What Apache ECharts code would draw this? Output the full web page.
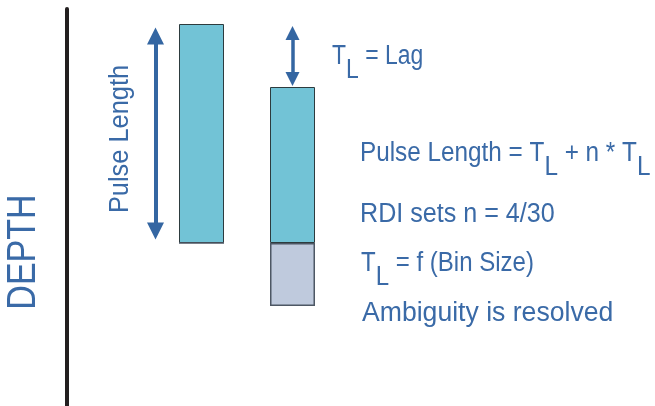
<!DOCTYPE html>
<html>
<head>
<meta charset="utf-8">
<script src="https://cdn.jsdelivr.net/npm/echarts@6/dist/echarts.min.js"></script>
<style>
  html, body { margin: 0; padding: 0; background: #fff; }
  #chart { width: 655px; height: 406px; }
</style>
</head>
<body>
<div id="chart"></div>
<script>
  // two pulses along the depth axis (depth counted down from the top)
  var pulses = ['Pulse 1', 'Pulse 2'];
  var pulseTop = [24, 87];
  var pulseBottom = [243, 243];
  var ambiguityDepth = [0, 63];   // grey part under pulse 2

  var blue = '#3a6aa7';
  var arrowBlue = '#3466a2';
  var font = '"Liberation Sans", Arial, sans-serif';

  var pulseLen = pulses.map(function (p, i) { return pulseBottom[i] - pulseTop[i]; });

  // rich text: the L subscript keeps the size but is pushed down
  var rich = {
    m: { fontSize: 27, lineHeight: 28, verticalAlign: 'top', fill: blue, fontFamily: font },
    s: { fontSize: 27, lineHeight: 28, verticalAlign: 'top', padding: [14, 0, 0, 0], fill: blue, fontFamily: font }
  };
  function note(x, y, text, sx) {
    return {
      type: 'text', x: x, y: y, scaleX: sx,
      style: { text: text, rich: rich, align: 'left', verticalAlign: 'top' }
    };
  }

  var chart = echarts.init(document.getElementById('chart'));
  var option = {
    backgroundColor: '#fff',
    animation: false,
    grid: [
      { left: 0, top: 0, width: 655, height: 406 },      // annotations
      { left: 156, top: 0, width: 182, height: 406 },    // pulses
      { left: 67, top: 9, width: 1, bottom: 0 }          // depth axis
    ],
    xAxis: [
      { gridIndex: 0, type: 'value', min: 0, max: 655, show: false },
      { gridIndex: 1, type: 'category', data: pulses, show: false },
      { gridIndex: 2, type: 'value', show: false }
    ],
    yAxis: [
      { gridIndex: 0, type: 'value', min: 0, max: 406, inverse: true, show: false },
      { gridIndex: 1, type: 'value', min: 0, max: 406, inverse: true, show: false },
      {
        gridIndex: 2, type: 'value', min: 0, max: 1,
        axisLine: { show: true, lineStyle: { color: '#231f20', width: 4 } },
        axisTick: { show: false }, axisLabel: { show: false }, splitLine: { show: false }
      }
    ],
    series: [
      {
        type: 'bar', xAxisIndex: 1, yAxisIndex: 1, stack: 'depth', barWidth: 45,
        itemStyle: { color: 'transparent' },
        data: pulseTop
      },
      {
        type: 'bar', xAxisIndex: 1, yAxisIndex: 1, stack: 'depth', barWidth: 45,
        itemStyle: { color: '#72c3d6', borderColor: '#2d3b3e', borderWidth: 1 },
        data: pulseLen
      },
      {
        type: 'bar', xAxisIndex: 1, yAxisIndex: 1, stack: 'depth', barWidth: 45,
        itemStyle: { color: '#bfcadd', borderColor: '#4d5764', borderWidth: 1.5 },
        data: ambiguityDepth
      },
      {
        // pulse length arrow
        type: 'lines', coordinateSystem: 'cartesian2d', xAxisIndex: 0, yAxisIndex: 0,
        symbol: ['triangle', 'triangle'], symbolSize: 17,
        lineStyle: { color: arrowBlue, width: 4, opacity: 1 },
        data: [{ coords: [[155.5, pulseTop[0] + 12], [155.5, pulseBottom[0] - 12]] }]
      },
      {
        // lag arrow
        type: 'lines', coordinateSystem: 'cartesian2d', xAxisIndex: 0, yAxisIndex: 0,
        symbol: ['triangle', 'triangle'], symbolSize: 14,
        lineStyle: { color: arrowBlue, width: 3.5, opacity: 1 },
        data: [{ coords: [[292.5, pulseTop[0] + 9], [292.5, pulseTop[1] - 8]] }]
      }
    ],
    graphic: [
      {
        type: 'text', x: 24, y: 252, rotation: Math.PI / 2, scaleX: 0.83,
        style: { text: 'DEPTH', fontSize: 41, fill: blue, fontFamily: font, align: 'center', verticalAlign: 'middle' }
      },
      {
        type: 'text', x: 121, y: 139, rotation: Math.PI / 2, scaleX: 0.94,
        style: { text: 'Pulse Length', fontSize: 27, fill: blue, fontFamily: font, align: 'center', verticalAlign: 'middle' }
      },
      note(332, 43, '{m|T}{s|L}{m| = Lag}', 0.85),
      note(360, 140, '{m|Pulse Length = T}{s|L}{m| + n * T}{s|L}', 0.9),
      note(360, 201, '{m|RDI sets n = 4/30}', 0.93),
      note(361, 250, '{m|T}{s|L}{m| = f (Bin Size)}', 0.89),
      note(362, 300, '{m|Ambiguity is resolved}', 0.985)
    ]
  };
  chart.setOption(option);
</script>
</body>
</html>
